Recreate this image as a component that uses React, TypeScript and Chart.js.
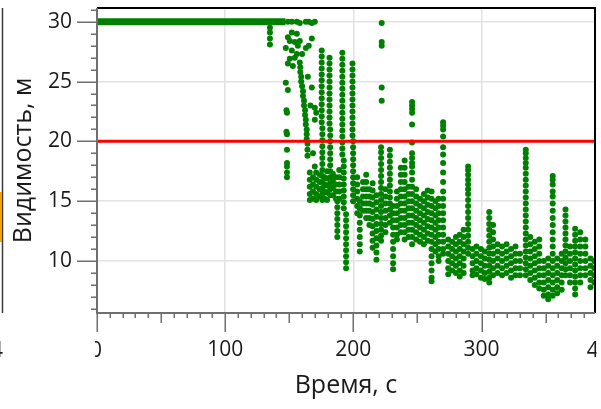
import React, { useEffect, useRef } from 'react';
import { Chart, registerables } from 'chart.js';

Chart.register(...registerables);

// ---- axis ranges & reference level ----
const timeRange = [0, 388.5];
const visRange = [5.65, 31.15];
const thresholdVis = 20;
const timeTickStep = 100;
const visTickStep = 5;

// ---- saturated (clear) period: visibility at sensor limit ----
const clearTimes = [0, 147];
const clearVis = [30, 30];

// ---- onset of smoke (bursts of readings around each time) ----
const onsetTimes = [
  134.9, 147.3, 147.8, 148.2, 148.9, 150.4, 152.0, 152.8, 154.3, 155.9, 156.7, 158.2,
  158.6, 159.3, 160.0, 160.7, 161.5, 162.3, 162.9, 163.6, 164.2, 164.5, 165.2, 166.0,
  166.5, 167.6, 168.5, 169.9, 171.0, 173.8, 175.3, 175.8, 177.5, 179.5, 181.4, 181.9,
  184.0, 186.5, 187.5, 189.0, 191.4, 192.5, 194.3, 199.3, 199.8,
];
const onsetReadings = [
  [29.5, 29.1, 28.6, 28.1],
  [27.8, 24.9],
  [22.6, 20.8],
  [22.4, 20.6, 19.3, 18.2, 17.9, 17.4, 17.0],
  [30.0, 28.7, 26.5, 24.3],
  [28.4, 26.9],
  [30.0, 29.1, 27.6],
  [26.3],
  [28.3, 27.0],
  [30.0, 29.0, 27.3],
  [28.0],
  [29.9, 28.4, 26.6],
  [26.2, 25.8],
  [25.4, 25.0],
  [27.3, 24.6],
  [24.2, 23.8],
  [23.4, 23.0],
  [22.6, 22.2],
  [30.0, 27.8, 21.8, 21.4],
  [21.0, 20.6, 20.2],
  [19.8, 19.3, 18.8],
  [25.4],
  [30.0, 28.0],
  [17.4, 16.8, 16.2, 15.6, 15.1],
  [23.0],
  [29.9, 28.6, 24.5],
  [19.0, 17.0, 16.4, 15.8, 15.2],
  [30.0, 22.8, 21.8, 17.9],
  [22.4, 17.4, 16.8, 16.2, 15.6, 15.1],
  [17.2, 16.6, 16.0, 15.4],
  [27.6, 27.1, 26.6, 26.1, 25.6, 25.1, 24.6, 24.1, 23.6, 23.1, 22.6, 22.1, 21.6],
  [21.1, 20.6, 20.1, 19.6, 19.1, 18.6, 18.1, 17.6, 17.1, 16.6, 16.1, 15.6, 15.1],
  [17.0, 16.4, 15.8, 15.2],
  [17.5, 16.9, 16.3, 15.7, 15.1],
  [27.0, 26.5, 26.0, 25.5, 25.0, 24.5, 24.0, 23.5, 23.0, 22.5, 22.0, 21.5],
  [21.0, 20.5, 20.0, 19.5, 19.0, 18.5, 18.0, 17.5, 17.0, 16.5, 16.0, 15.5],
  [17.3, 16.7, 16.1, 15.5],
  [17.0, 16.4, 15.8, 15.2],
  [15.0, 14.5, 14.0, 13.5, 13.0, 12.5, 12.0],
  [17.6, 17.0, 16.4, 15.8, 15.2],
  [27.4, 26.9, 26.4, 25.9, 25.4, 24.9, 24.4, 23.9, 23.4, 22.9, 22.4, 21.9, 21.4, 20.9, 20.4, 19.9, 19.4, 18.9],
  [18.4, 17.9, 17.4, 16.9, 16.4, 15.9, 15.4, 14.9, 14.4],
  [13.9, 13.4, 12.9, 12.4, 11.9, 11.4, 10.9, 10.4, 9.9, 9.4],
  [26.5, 26.0, 25.5, 25.0, 24.5, 24.0, 23.5, 23.0, 22.5, 22.0, 21.5, 21.0, 20.5],
  [20.0, 19.5, 19.0, 18.5, 18.0, 17.5, 17.0, 16.5, 16.0, 15.5, 15.0],
];

// ---- dense smoke period ----
const fogTimes = [
  203.0, 205.0, 207.5, 210.0, 212.5, 215.0, 218.0, 221.6, 222.1, 225.0, 228.5, 231.0,
  234.0, 237.0, 240.0, 243.0, 245.8, 249.0, 252.0, 255.0, 258.0, 261.0, 264.0, 266.5,
  270.0, 274.0, 277.0, 280.0, 283.0, 286.0, 289.5, 293.0, 296.0,
];
const fogReadings = [
  [17.0, 16.4, 15.8, 15.2, 14.6, 14.0],
  [15.0, 14.4, 13.8, 13.2, 12.6, 12.0, 11.4, 10.8],
  [16.6, 16.0, 15.4, 14.8, 14.2],
  [17.2, 16.6, 16.0, 15.4, 14.8, 14.2, 13.6],
  [16.0, 15.4, 14.8, 14.2, 13.6, 13.0],
  [16.5, 15.9, 15.3, 14.7, 14.1, 13.5, 12.9, 12.3, 11.7, 11.1],
  [15.5, 14.9, 14.3, 13.7, 13.1, 12.5, 11.9, 11.3, 10.7, 10.1],
  [19.5, 19.1, 18.6, 18.1, 17.6, 17.1, 16.6, 16.1, 15.6, 15.1, 14.6, 14.1, 13.6, 13.1, 12.6, 12.1, 11.7],
  [29.9, 28.3, 28.0, 24.5, 23.4],
  [16.0, 15.4, 14.8, 14.2, 13.6, 13.0, 12.4],
  [19.3, 18.8, 18.3, 17.8, 17.3, 16.8, 16.3, 15.8, 15.3, 14.8, 14.3, 13.8, 13.2],
  [14.6, 14.0, 13.4, 12.8, 12.2, 11.6, 11.0, 10.4, 9.8, 9.3],
  [15.8, 15.2, 14.6, 14.0, 13.4, 12.8, 12.2, 11.8],
  [17.8, 17.2, 16.6, 16.0, 15.4, 14.8, 14.2, 13.6, 13.0, 12.4],
  [18.4, 17.8, 17.2, 16.6, 16.0, 15.4, 14.8, 14.2, 13.6, 13.0, 12.4, 11.8],
  [16.2, 15.6, 15.0, 14.4, 13.8, 13.2, 12.6, 12.0],
  [23.3, 23.0, 22.7, 22.4, 21.4, 19.9, 19.0, 18.6, 18.2, 17.9, 17.4, 16.8, 16.2, 15.6, 15.0, 14.4, 13.8, 13.2, 12.6, 12.0, 11.4],
  [16.0, 15.4, 14.8, 14.2, 13.6, 13.0, 12.4, 11.8],
  [15.2, 14.6, 14.0, 13.4, 12.8, 12.2, 11.6],
  [15.6, 15.0, 14.4, 13.8, 13.2, 12.6, 12.0, 11.4],
  [15.9, 15.3, 14.7, 14.1, 13.5, 12.9, 12.3, 11.7],
  [15.8, 15.2, 14.6, 14.0, 13.4, 12.8, 12.2, 11.6, 11.0, 10.4, 9.8, 9.2, 8.6, 8.3],
  [15.0, 14.4, 13.8, 13.2, 12.6, 12.0, 11.4, 10.8],
  [15.2, 14.6, 14.0, 13.4, 12.8, 12.2, 11.6, 11.0, 10.4, 10.0],
  [21.6, 21.3, 21.0, 20.4, 19.5, 18.9, 18.2, 17.4, 16.6, 15.8, 15.2, 14.6, 14.0, 13.4, 12.8, 12.2, 11.6, 11.0, 10.6],
  [11.8, 11.2, 10.6, 10.0, 9.4, 8.9],
  [11.6, 11.0, 10.4, 9.8, 9.2],
  [12.0, 11.4, 10.8, 10.2, 9.6, 9.0],
  [12.2, 11.6, 11.0, 10.4, 9.8, 9.2, 8.7],
  [12.6, 12.0, 11.4, 10.8, 10.2, 9.6, 9.0],
  [17.9, 17.6, 17.2, 16.8, 16.4, 16.0, 15.6, 15.1, 14.6, 14.1, 13.6, 13.1, 12.6, 12.1, 11.6, 11.1, 10.6],
  [11.0, 10.4, 9.8, 9.2, 8.8],
  [11.2, 10.6, 10.0, 9.4, 8.9],
];

// ---- late period ----
const lateTimes = [
  299.5, 302.5, 306.0, 309.0, 312.5, 316.0, 319.5, 323.0, 326.5, 330.0, 334.5, 338.0,
  341.5, 345.0, 348.5, 352.0, 355.5, 359.0, 362.5, 365.5, 369.0, 373.0, 377.0, 381.0,
  385.0, 388.0,
];
const lateReadings = [
  [11.0, 10.4, 9.8, 9.2, 8.6],
  [10.8, 10.2, 9.6, 9.0, 8.5],
  [14.1, 13.6, 13.1, 12.6, 12.1, 11.6, 11.1, 10.6, 10.1, 9.6, 9.1, 8.6, 8.2],
  [13.0, 12.4, 11.8, 11.2, 10.6, 10.0, 9.4, 8.8],
  [11.4, 10.8, 10.2, 9.6, 9.0],
  [11.2, 10.6, 10.0, 9.4, 8.8],
  [11.4, 10.8, 10.2, 9.6, 9.0],
  [11.0, 10.4, 9.8, 9.2, 8.6],
  [11.2, 10.6, 10.0, 9.4, 8.8],
  [10.6, 10.0, 9.4, 8.8],
  [19.3, 19.0, 18.6, 18.2, 17.8, 17.3, 16.8, 16.3, 15.8, 15.3, 14.8, 14.3, 13.8, 13.3, 12.8, 12.3, 11.8, 11.3, 10.8, 10.3, 9.8, 9.3, 8.8],
  [12.0, 11.4, 10.8, 10.2, 9.6, 9.0, 8.4],
  [11.6, 11.0, 10.4, 9.8, 9.2, 8.6, 8.0],
  [11.8, 11.2, 10.6, 10.0, 9.4, 8.8, 8.2, 7.7],
  [10.0, 9.4, 8.8, 8.2, 7.6, 7.1],
  [10.2, 9.6, 9.0, 8.4, 7.8, 7.2, 6.8],
  [17.1, 16.8, 16.4, 15.8, 15.4, 14.8, 14.2, 13.6, 13.0, 12.4, 11.8, 11.2, 10.6, 10.0, 9.4, 8.8, 8.2, 7.6, 7.1],
  [10.2, 9.6, 9.0, 8.4, 7.8, 7.3],
  [10.6, 10.0, 9.4, 8.8, 8.2, 7.6],
  [14.3, 13.8, 13.3, 12.8, 12.3, 11.8, 11.3, 10.8, 10.3, 9.8, 9.3, 8.8],
  [11.2, 10.6, 10.0, 9.4, 8.8, 8.2],
  [12.7, 12.2, 11.7, 11.2, 10.7, 10.2, 9.7, 9.2, 8.7, 8.2, 7.7, 7.2],
  [12.4, 11.8, 11.2, 10.6, 10.0, 9.4, 8.8, 8.2],
  [11.8, 11.2, 10.6, 10.0, 9.4, 8.8],
  [10.2, 9.6, 9.0, 8.4, 7.8],
  [10.0, 9.4, 8.8, 8.2],
];

const FONT = '"Open Sans", "Noto Sans", sans-serif';
const GREEN = '#008000';

function toPoints(times: number[], readings: number[][]) {
  const pts: { x: number; y: number }[] = [];
  times.forEach((t, i) => {
    readings[i].forEach((v) => pts.push({ x: t, y: v }));
  });
  return pts;
}

const frame = {
  id: 'frame',
  afterDraw(chart: any) {
    const { ctx, chartArea: a, scales } = chart;
    const xs = scales.x;
    const ys = scales.y;
    ctx.save();
    // neighbour panel edge (cropped figure)
    ctx.strokeStyle = '#3a3a3a';
    ctx.lineWidth = 1.5;
    ctx.beginPath();
    ctx.moveTo(2.5, a.top);
    ctx.lineTo(2.5, a.bottom);
    ctx.stroke();
    ctx.fillStyle = '#f5a200';
    ctx.fillRect(0, 192, 2, 50);

    // top / right border
    ctx.strokeStyle = '#000';
    ctx.lineWidth = 2;
    ctx.beginPath();
    ctx.moveTo(a.left, a.top);
    ctx.lineTo(a.right, a.top);
    ctx.lineTo(a.right, a.bottom);
    ctx.stroke();

    // axes lines
    ctx.strokeStyle = '#6f6f6f';
    ctx.lineWidth = 2;
    ctx.beginPath();
    ctx.moveTo(a.left, a.top);
    ctx.lineTo(a.left, a.bottom);
    ctx.lineTo(a.right, a.bottom);
    ctx.stroke();

    // x ticks
    ctx.lineWidth = 1.5;
    for (let v = 0; v <= xs.max + 1e-6; v += 10) {
      const px = Math.round(xs.getPixelForValue(v)) + 0.25;
      const len = v % 100 === 0 ? 19 : v % 50 === 0 ? 10 : 5;
      ctx.beginPath();
      ctx.moveTo(px, a.bottom);
      ctx.lineTo(px, a.bottom + len);
      ctx.stroke();
    }
    // y ticks
    for (let v = Math.ceil(ys.min); v <= ys.max; v += 1) {
      const py = Math.round(ys.getPixelForValue(v)) + 0.25;
      const len = v % 5 === 0 ? 20 : 6;
      ctx.beginPath();
      ctx.moveTo(a.left, py);
      ctx.lineTo(a.left - len, py);
      ctx.stroke();
    }

    // clipped tick labels at the panel edges
    ctx.fillStyle = '#1a1a1a';
    ctx.font = '21px ' + FONT;
    ctx.textAlign = 'center';
    ctx.textBaseline = 'middle';
    ctx.save();
    ctx.beginPath();
    ctx.rect(a.left - 2, a.bottom + 20, 40, 60);
    ctx.clip();
    ctx.fillText('0', xs.getPixelForValue(0) - 1, 351);
    ctx.restore();
    ctx.save();
    ctx.beginPath();
    ctx.rect(a.right - 20, a.bottom + 20, 21.5, 60);
    ctx.clip();
    ctx.fillText('400', xs.getPixelForValue(400) - 5, 351);
    ctx.restore();
    ctx.save();
    ctx.beginPath();
    ctx.rect(0, a.bottom + 20, 3, 60);
    ctx.clip();
    ctx.fillText('4', -3, 351);
    ctx.restore();
    ctx.restore();
  },
};

export default function App() {
  const ref = useRef<HTMLCanvasElement | null>(null);

  useEffect(() => {
    if (!ref.current) return;
    const chart = new Chart(ref.current, {
      type: 'scatter',
      data: {
        datasets: [
          {
            label: 'Порог',
            data: timeRange.map((t) => ({ x: t, y: thresholdVis })),
            showLine: true,
            borderColor: '#ff0000',
            borderWidth: 3,
            pointRadius: 0,
            order: 0,
          },
          {
            label: 'Видимость (предел)',
            data: clearTimes.map((t, i) => ({ x: t, y: clearVis[i] })),
            showLine: true,
            borderColor: GREEN,
            borderWidth: 7,
            pointRadius: 0,
            order: 1,
          },
          {
            label: 'Видимость',
            data: [
              ...toPoints(onsetTimes, onsetReadings),
              ...toPoints(fogTimes, fogReadings),
              ...toPoints(lateTimes, lateReadings),
            ],
            backgroundColor: GREEN,
            borderWidth: 0,
            pointRadius: 3,
            order: 2,
          },
        ],
      } as any,
      options: {
        animation: false,
        responsive: false,
        maintainAspectRatio: false,
        layout: { padding: { top: 8, right: 6, left: 0, bottom: 0 } },
        plugins: { legend: { display: false }, tooltip: { enabled: false } },
        scales: {
          x: {
            type: 'linear',
            min: timeRange[0],
            max: timeRange[1],
            border: { display: false },
            grid: { color: '#e2e2e2', lineWidth: 1.5, drawTicks: false },
            ticks: {
              stepSize: timeTickStep,
              includeBounds: false,
              autoSkip: false,
              maxRotation: 0,
              padding: 24,
              color: '#1a1a1a',
              font: { family: FONT, size: 21 },
              callback: (v: any) => (v === 0 ? '' : String(v)),
            },
            title: {
              display: true,
              text: 'Время, с',
              color: '#1a1a1a',
              font: { family: FONT, size: 25 },
              padding: { top: 0, bottom: 8 },
            },
            afterFit: (s: any) => {
              s.height = 96;
              s.paddingLeft = 0;
              s.paddingRight = 0;
            },
          },
          y: {
            type: 'linear',
            min: visRange[0],
            max: visRange[1],
            border: { display: false },
            grid: { color: '#e2e2e2', lineWidth: 1.5, drawTicks: false },
            ticks: {
              stepSize: visTickStep,
              includeBounds: false,
              autoSkip: false,
              padding: 25,
              color: '#1a1a1a',
              font: { family: FONT, size: 21 },
              callback: (v: any) => String(v),
            },
            title: {
              display: true,
              text: 'Видимость, м',
              color: '#1a1a1a',
              font: { family: FONT, size: 25 },
              padding: { top: 9, bottom: 0 },
            },
            afterFit: (s: any) => {
              s.width = 97;
              s.paddingTop = 0;
              s.paddingBottom = 0;
            },
          },
        },
      } as any,
      plugins: [frame],
    });
    return () => chart.destroy();
  }, []);

  return (
    <div style={{ position: 'absolute', left: 0, top: 0, width: 601, height: 409, background: '#fff' }}>
      <canvas ref={ref} width={601} height={409} style={{ display: 'block', width: 601, height: 409 }} />
    </div>
  );
}
